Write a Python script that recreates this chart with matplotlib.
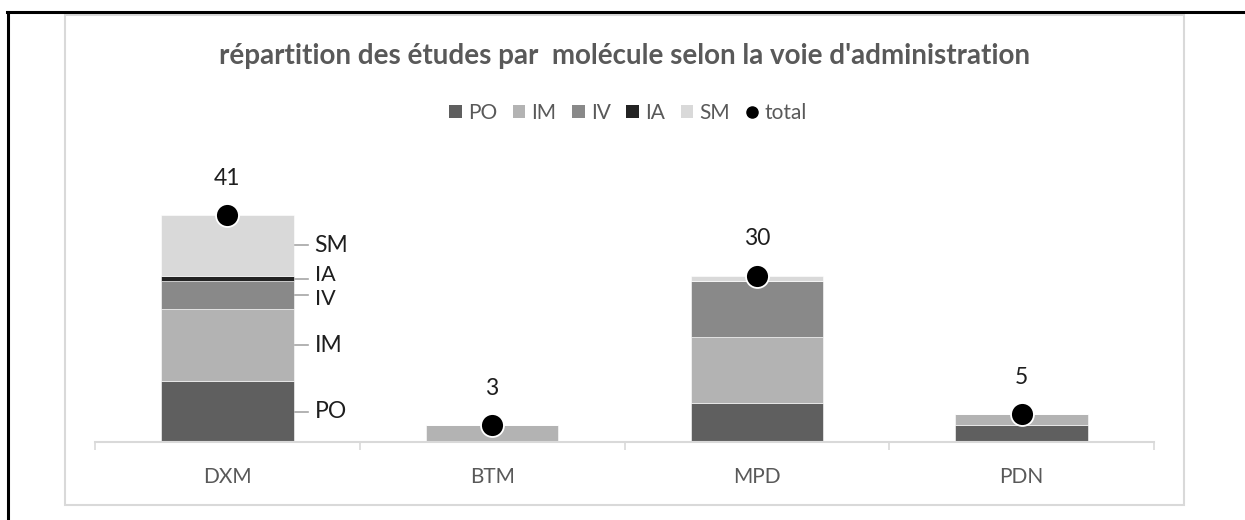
import matplotlib
matplotlib.use("Agg")
import matplotlib.pyplot as plt
import numpy as np
from matplotlib.patches import Rectangle
from matplotlib.lines import Line2D

plt.rcParams['font.family'] = ['Lato', 'DejaVu Sans']

categories = ["DXM", "BTM", "MPD", "PDN"]
series_names = ["PO", "IM", "IV", "IA", "SM"]
PO = [11, 0, 7, 3]
IM = [13, 3, 12, 2]
IV = [5, 0, 10, 0]
IA = [1, 0, 0, 0]
SM = [11, 0, 1, 0]
total = [41, 3, 30, 5]
colors = ["#5f5f5f", "#b3b3b3", "#898989", "#232323", "#d9d9d9"]
title = "répartition des études par  molécule selon la voie d'administration"

W, H = 1245, 520
DPI = 100
fig = plt.figure(figsize=(W / DPI, H / DPI), dpi=DPI)
fig.patch.set_facecolor("white")

def fx(px):
    return px / W

def fy(py):
    return 1 - py / H

# outer black frame (top and left only)
fig.add_artist(Line2D([fx(7), 1.0], [fy(12), fy(12)], color="black", lw=2.2))
fig.add_artist(Line2D([fx(8), fx(8)], [fy(12), 0.0], color="black", lw=2.2))
# chart area border
fig.add_artist(Rectangle((fx(65), fy(505)), fx(1184) - fx(65), fy(15) - fy(505),
                         transform=fig.transFigure, fill=False, edgecolor="#d9d9d9", lw=1.5))

# axes placement
x0, x1 = 95, 1154
base = 442
px_per_unit = 5.54
ymax = 50
ax = fig.add_axes([fx(x0), fy(base), fx(x1) - fx(x0), ymax * px_per_unit / H])
ax.set_facecolor("none")
ax.set_xlim(-0.5, len(categories) - 0.5)
ax.set_ylim(0, ymax)

x = np.arange(len(categories))
bw = 0.5
bottom = np.zeros(len(categories))
data = [PO, IM, IV, IA, SM]
for name, vals, c in zip(series_names, data, colors):
    vals = np.array(vals, dtype=float)
    ax.bar(x, vals, bw, bottom=bottom, color=c, edgecolor="white", linewidth=0.4,
           label=name, zorder=2)
    bottom += vals

# total points
ax.plot(x, total, "o", color="black", markersize=16.5, markeredgecolor="white",
        markeredgewidth=1.3, zorder=4, clip_on=False, label="total")
for xi, t in zip(x, total):
    ax.annotate(str(t), (xi, t), xytext=(0, 26.5), textcoords="offset points",
                ha="center", va="center", fontsize=16.5, color="#1e1e1e")

# series labels on first bar with leader lines
upx = (len(categories)) / (x1 - x0)  # data units per pixel
nudge = {"IA": 2.5, "IV": -2.5}  # points, to keep the two close labels apart
cum = 0
for name, vals in zip(series_names, data):
    v = vals[0]
    mid = cum + v / 2
    cum += v
    ax.plot([0 + bw / 2 + 1 * upx, 0 + bw / 2 + 14 * upx], [mid, mid], color="#a6a6a6",
            lw=1.2, zorder=3, clip_on=False)
    ax.annotate(name, (0 + bw / 2 + 21 * upx, mid), xytext=(0, nudge.get(name, 0)),
                textcoords="offset points", ha="left", va="center",
                fontsize=15.5 if name in nudge else 16.5, color="#1e1e1e")

# axes styling
for s in ["top", "right", "left"]:
    ax.spines[s].set_visible(False)
ax.spines["bottom"].set_color("#d9d9d9")
ax.spines["bottom"].set_linewidth(1.5)
ax.set_yticks([])
ax.set_xticks(x)
ax.set_xticklabels(categories, fontsize=15, color="#595959")
ax.tick_params(axis="x", which="major", length=0, pad=18)
ax.set_xticks(np.arange(-0.5, len(categories)), minor=True)
ax.tick_params(axis="x", which="minor", length=6, width=1.2, color="#d9d9d9", direction="out")

# title
fig.text(fx(624.5), fy(56), title, ha="center", va="center", fontsize=20,
         fontweight="bold", color="#595959")

# legend
handles = [Rectangle((0, 0), 1, 1, facecolor=c) for c in colors]
handles.append(Line2D([], [], marker="o", color="black", linestyle="none", markersize=8))
leg = fig.legend(handles, series_names + ["total"], loc="center",
                 bbox_to_anchor=(fx(628), fy(113)), ncol=6, frameon=False,
                 fontsize=15, handlelength=0.6, handleheight=0.6, handletextpad=0.3,
                 columnspacing=0.75, labelcolor="#595959")

fig.savefig("out.png", dpi=DPI)
